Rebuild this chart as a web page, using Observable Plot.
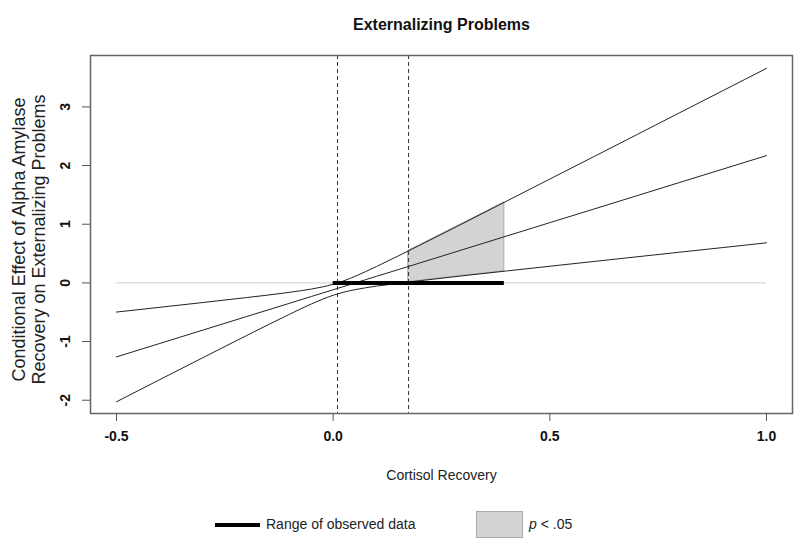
<!DOCTYPE html>
<html>
<head>
<meta charset="utf-8">
<script src="https://cdn.jsdelivr.net/npm/d3@7"></script>
<script src="https://cdn.jsdelivr.net/npm/@observablehq/plot@0.6"></script>
<style>
  html, body { margin: 0; padding: 0; background: #fff; }
  body { width: 800px; height: 546px; overflow: hidden; font-family: "Liberation Sans", Arial, sans-serif; }
  #legend { position: relative; width: 800px; height: 46px; color: #222; font-size: 14px; }
  #legend .line { position: absolute; left: 215px; top: 23px; width: 45px; height: 4px; background: #000; }
  #legend .t1 { position: absolute; left: 266px; top: 16px; }
  #legend .box { position: absolute; left: 476px; top: 11px; width: 45px; height: 25px; background: #d3d3d3; border: 1px solid #aaa; }
  #legend .t2 { position: absolute; left: 529px; top: 16px; }
</style>
</head>
<body>
<div id="chart"></div>
<div id="legend">
  <div class="line"></div><div class="t1">Range of observed data</div>
  <div class="box"></div><div class="t2"><i>p</i> &lt; .05</div>
</div>
<script>
// Moderator values (Cortisol Recovery)
const xs       = [-0.5, -0.4, -0.3, -0.2, -0.1, -0.05, -0.025, 0, 0.01, 0.025, 0.05, 0.075, 0.1, 0.15, 0.2, 0.3, 0.4, 0.5, 0.6, 0.7, 0.8, 0.9, 1.0];
// Conditional effect estimate
const estimate = [-1.261, -1.032, -0.803, -0.574, -0.346, -0.231, -0.174, -0.117, -0.094, -0.060, -0.003, 0.055, 0.112, 0.226, 0.340, 0.569, 0.798, 1.027, 1.255, 1.484, 1.713, 1.941, 2.170];
// Upper and lower confidence bounds
const upper    = [-0.497, -0.416, -0.334, -0.250, -0.160, -0.104, -0.069, -0.023, 0.000, 0.037, 0.110, 0.193, 0.279, 0.459, 0.643, 1.016, 1.393, 1.770, 2.146, 2.524, 2.902, 3.279, 3.657];
const lower    = [-2.026, -1.648, -1.272, -0.898, -0.532, -0.358, -0.280, -0.211, -0.188, -0.157, -0.116, -0.083, -0.055, -0.007, 0.037, 0.122, 0.203, 0.284, 0.364, 0.444, 0.524, 0.603, 0.683];

// Region of significance (p < .05)
const shadeX     = [0.174, 0.2, 0.25, 0.3, 0.35, 0.395];
const shadeUpper = [0.547, 0.643, 0.830, 1.016, 1.204, 1.373];
const shadeLower = [0.015, 0.037, 0.080, 0.122, 0.162, 0.199];

// Johnson-Neyman points and observed data range
const jnPoints = [0.01, 0.174];
const observedRange = [0.0, 0.395];
const zeroLine = [-0.5, 1.0];

// Axis ticks
const xTicks = [-0.5, 0, 0.5, 1.0];
const yTicks = [-2, -1, 0, 1, 2, 3];

const title = "Externalizing Problems";
const xLabel = "Cortisol Recovery";
const yLabel = "Conditional Effect of Alpha Amylase\nRecovery on Externalizing Problems";

const curves = xs.map((x, i) => ({x, est: estimate[i], up: upper[i], lo: lower[i]}));
const shade = shadeX.map((x, i) => ({x, up: shadeUpper[i], lo: shadeLower[i]}));

const font = "Liberation Sans, Arial, sans-serif";
const lineColor = "#222";

const chart = Plot.plot({
  width: 800,
  height: 500,
  marginLeft: 90,
  marginRight: 8,
  marginTop: 55,
  marginBottom: 87,
  style: {fontFamily: font, color: "#111", background: "#fff"},
  x: {domain: [-0.56, 1.06]},
  y: {domain: [-2.226, 3.876]},
  marks: [
    Plot.areaY(shade, {x: "x", y1: "lo", y2: "up", fill: "#d3d3d3", stroke: "#aaa", strokeWidth: 1}),
    Plot.ruleY([0], {x1: zeroLine[0], x2: zeroLine[1], stroke: "#cfcfcf", strokeWidth: 1}),
    Plot.line(curves, {x: "x", y: "up", stroke: lineColor, strokeWidth: 1, curve: "monotone-x"}),
    Plot.line(curves, {x: "x", y: "est", stroke: lineColor, strokeWidth: 1, curve: "monotone-x"}),
    Plot.line(curves, {x: "x", y: "lo", stroke: lineColor, strokeWidth: 1, curve: "monotone-x"}),
    Plot.ruleX(jnPoints, {stroke: "#333", strokeWidth: 1, strokeDasharray: "4,3"}),
    Plot.ruleY([0], {x1: observedRange[0], x2: observedRange[1], stroke: "#000", strokeWidth: 4}),
    Plot.frame({stroke: "#666", strokeWidth: 1.5}),
    Plot.axisX(xTicks, {tickSize: 8, tickPadding: 10, fontSize: 14, fontWeight: "bold", stroke: "#555", tickFormat: d => d.toFixed(1), label: null}),
    Plot.axisY(yTicks, {tickSize: 8, tickFormat: () => "", stroke: "#555", label: null}),
    Plot.text(yTicks, {y: d => d, text: d => String(d), frameAnchor: "left", textAnchor: "middle", dx: -25, rotate: -90, fontSize: 14, fontWeight: "bold", fill: "#111"}),
    Plot.text([title], {frameAnchor: "top", dy: -37, fontSize: 16, fontWeight: "bold", fill: "#111"}),
    Plot.text([xLabel], {frameAnchor: "bottom", dy: 66, fontSize: 14, fill: "#222"}),
    Plot.text([yLabel], {frameAnchor: "left", textAnchor: "middle", dx: -62, dy: 5, rotate: -90, fontSize: 18, lineHeight: 1.12, fill: "#222"})
  ]
});
document.getElementById("chart").appendChild(chart);
</script>
</body>
</html>
